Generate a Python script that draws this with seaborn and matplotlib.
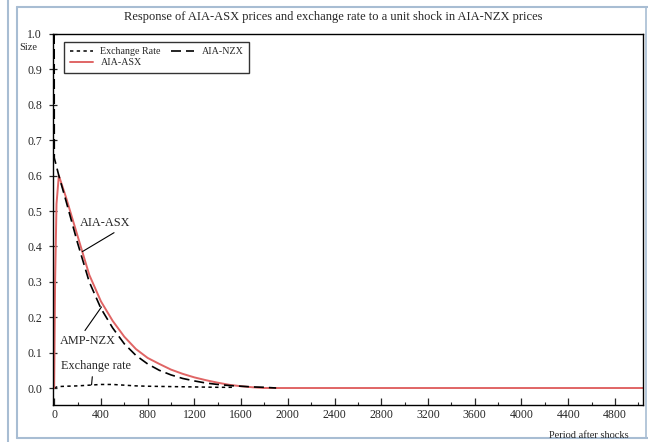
import matplotlib
matplotlib.use("Agg")
import matplotlib.pyplot as plt
from matplotlib.lines import Line2D
from matplotlib.ticker import MultipleLocator
import seaborn as sns
import pandas as pd

# impulse responses
periods_asx = [0, 8, 20, 40, 100, 200, 300, 400, 500, 600, 700, 800, 900, 1000,
               1100, 1200, 1300, 1400, 1500, 1600, 1700, 1800, 5040]
asx = [0.0, 0.30, 0.52, 0.60, 0.54, 0.43, 0.32, 0.245, 0.19, 0.145, 0.11, 0.085,
       0.068, 0.052, 0.04, 0.03, 0.022, 0.015, 0.009, 0.005, 0.002, 0.0, 0.0]

periods_nzx = [0, 1, 40, 100, 200, 300, 400, 500, 600, 700, 800, 900, 1000,
               1100, 1200, 1300, 1400, 1500, 1600, 1700, 1800, 1900]
nzx = [1.0, 0.65, 0.60, 0.53, 0.41, 0.30, 0.225, 0.17, 0.125, 0.092, 0.068, 0.05,
       0.037, 0.027, 0.02, 0.014, 0.01, 0.007, 0.005, 0.003, 0.002, 0.0]

periods_fx = [0, 30, 100, 200, 300, 400, 500, 600, 700, 800, 1000, 1200, 1400, 1550]
fx = [0.0, 0.004, 0.005, 0.006, 0.008, 0.01, 0.01, 0.008, 0.006, 0.005, 0.004,
      0.003, 0.002, 0.002]

dfAsx = pd.DataFrame({"period": periods_asx, "size": asx})
dfNzx = pd.DataFrame({"period": periods_nzx, "size": nzx})
dfFx = pd.DataFrame({"period": periods_fx, "size": fx})

sns.set_style("white")
plt.rcParams["font.family"] = ["Liberation Serif", "DejaVu Serif"]

fig = plt.figure(figsize=(6.48, 4.42), dpi=100)
ax = fig.add_axes([53 / 648, 1 - 405 / 442, 590 / 648, 371 / 442])

red = "#e06565"
sns.lineplot(ax=ax, data=dfFx, x="period", y="size", color="black", lw=1.1,
             linestyle=(0, (2.2, 2.2)), label="Exchange Rate", estimator=None, sort=False)
sns.lineplot(ax=ax, data=dfAsx, x="period", y="size", color=red, lw=1.4,
             label="AIA-ASX", estimator=None, sort=False)
sns.lineplot(ax=ax, data=dfNzx, x="period", y="size", color="black", lw=1.2,
             linestyle=(0, (6, 3)), label="AIA-NZX", estimator=None, sort=False)

ax.set_xlim(-10, 5040)
ax.set_ylim(-0.048, 1.0)
ax.xaxis.set_major_locator(MultipleLocator(400))
ax.xaxis.set_minor_locator(MultipleLocator(200))
ax.yaxis.set_major_locator(MultipleLocator(0.1))
ax.yaxis.set_major_formatter(matplotlib.ticker.FormatStrFormatter("%.1f"))
ax.tick_params(axis="x", which="major", direction="in", length=5, width=0.9,
               labelsize=8.5, pad=3, bottom=True)
ax.tick_params(axis="x", which="minor", direction="in", length=2.5, width=0.8, bottom=True)
ax.tick_params(axis="y", which="major", direction="inout", length=6, width=0.9,
               labelsize=8.5, pad=5, left=True)
for s in ax.spines.values():
    s.set_color("black")
    s.set_linewidth(1.0)
ax.set_xlabel("")
ax.set_ylabel("")

leg = ax.legend(loc="upper left", bbox_to_anchor=(11 / 590, 1 - 8 / 371), ncol=2,
                fontsize=7.2, frameon=True, fancybox=False, borderaxespad=0,
                handlelength=2.3, columnspacing=1.0, labelspacing=0.15,
                borderpad=0.55, handletextpad=0.8)
leg.get_frame().set_edgecolor("black")
leg.get_frame().set_linewidth(1.0)

ax.annotate("AIA-ASX", xy=(240, 0.385), xytext=(440, 0.467), fontsize=8.8,
            ha="center", va="center",
            arrowprops=dict(arrowstyle="-", lw=0.8, color="black", shrinkA=1, shrinkB=0,
                            relpos=(0.8, 0)))
ax.annotate("AMP-NZX", xy=(405, 0.229), xytext=(285, 0.133), fontsize=8.8,
            ha="center", va="center",
            arrowprops=dict(arrowstyle="-", lw=0.8, color="black", shrinkA=1, shrinkB=0,
                            relpos=(0.4, 1)))
ax.annotate("Exchange rate", xy=(320, 0.009), xytext=(360, 0.062), fontsize=8.8,
            ha="center", va="center",
            arrowprops=dict(arrowstyle="-", lw=0.8, color="black", shrinkA=1, shrinkB=0,
                            relpos=(0.45, 0)))

fig.text(333 / 648, 1 - 17 / 442, "Response of AIA-ASX prices and exchange rate to a unit shock in AIA-NZX prices",
         ha="center", va="center", fontsize=9)
fig.text(28 / 648, 1 - 47 / 442, "Size", ha="center", va="center", fontsize=7.5)
fig.text(589 / 648, 1 - 435 / 442, "Period after shocks", ha="center", va="center", fontsize=7.5)

# page frame around the picture
frame = "#a8bdd3"
fig.add_artist(Line2D([8 / 648, 8 / 648], [0, 1], transform=fig.transFigure, color=frame, lw=1.5))
fig.add_artist(Line2D([17 / 648, 17 / 648], [0.01, 1 - 7 / 442], transform=fig.transFigure, color=frame, lw=1.5))
fig.add_artist(Line2D([17 / 648, 1], [1 - 7 / 442, 1 - 7 / 442], transform=fig.transFigure, color=frame, lw=1.5))
fig.add_artist(Line2D([17 / 648, 1], [0.01, 0.01], transform=fig.transFigure, color=frame, lw=1.5))
fig.add_artist(Line2D([646 / 648, 646 / 648], [0.01, 1 - 7 / 442], transform=fig.transFigure, color=frame, lw=1.2))

fig.savefig("out.png", dpi=100)
